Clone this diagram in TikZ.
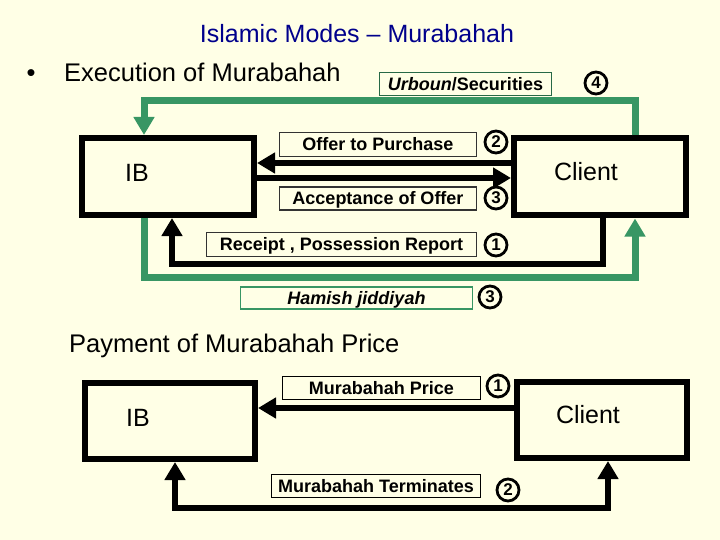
\documentclass[tikz,border=0pt]{standalone}
\usepackage{fontspec}
\setmainfont{Liberation Sans}
\usetikzlibrary{arrows.meta}
\definecolor{paper}{RGB}{255,255,230}
\definecolor{loopgreen}{RGB}{56,150,100}
\definecolor{titleblue}{RGB}{0,0,140}
\begin{document}
\begin{tikzpicture}[x=1pt,y=-1pt,
    bigtip/.tip={Triangle[width=20pt,length=18pt]},
    party/.style={draw,line width=6pt,minimum width=172pt,minimum height=77pt,inner sep=0},
    partyname/.style={font=\fontsize{25}{30}\selectfont,inner sep=0},
    heading/.style={font=\fontsize{25.5}{30}\selectfont,inner sep=0,anchor=base west},
    tag/.style={draw=#1,line width=1.2pt,inner sep=0,text height=12.9pt,text depth=0pt,
      font=\fontsize{18}{20}\selectfont\bfseries},
    num/.style={circle,draw,line width=2.8pt,minimum size=22pt,inner sep=0,
      font=\fontsize{17}{17}\selectfont\bfseries},
    flow/.style={line width=6pt,-bigtip},
    gflow/.style={line width=7pt,color=loopgreen,-bigtip}]
  \useasboundingbox (0,0) rectangle (720,540);
  \fill[paper] (0,0) rectangle (720,540);
  % headings
  \node[anchor=base,text=titleblue,inner sep=0,font=\fontsize{25}{30}\selectfont]
    (title) at (357,43) {Islamic Modes – Murabahah};
  \node[heading,anchor=base] (bullet) at (31,82) {\textbullet};
  \node[heading] (exec) at (64,82) {Execution of Murabahah};
  \node[heading] (pay) at (69,352) {Payment of Murabahah Price};
  % execution: parties
  \node[party] (ib) at (168,176.5) {};
  \node[party] (client) at (600,177) {};
  \node[partyname] (ibname) at (137,173) {IB};
  \node[partyname] (clientname) at (586,172) {Client};
  % execution: green loop (4 and 3)
  \draw[gflow] ([xshift=35pt]client.north) -- ++(0,-35) -| ([xshift=-24pt]ib.north);
  \draw[gflow] ([xshift=-24pt]ib.south) -- ++(0,59) -| ([xshift=35pt]client.south);
  % execution: black arrows
  \draw[flow] ([yshift=14pt]client.west) -- ([yshift=14pt]client.west -| ib.east);
  \draw[flow] ([yshift=-1.5pt]ib.east) -- ([yshift=-1.5pt]ib.east -| client.west);
  \draw[flow] ([xshift=3pt]client.south) -- ++(0,45) -| ([xshift=4pt]ib.south);
  % execution: labels
  \node[tag=loopgreen!70!black,minimum width=172pt,minimum height=23pt] (urboun) at (465.5,84)
    {\itshape Urboun\upshape/Securities};
  \node[num] (n4) at (596,83) {4};
  \node[tag=black!80,minimum width=197pt,minimum height=24pt] (offer) at (378,144.5) {Offer to Purchase};
  \node[num] (n2) at (496,142) {2};
  \node[tag=black!80,minimum width=197pt,minimum height=23pt] (accept) at (378,198.5) {Acceptance of Offer};
  \node[num] (n3) at (496,198) {3};
  \node[tag=black!80,minimum width=270pt,minimum height=24pt] (receipt) at (341.5,244.5) {Receipt , Possession Report};
  \node[num] (n1) at (496,245) {1};
  \node[tag=loopgreen,minimum width=232pt,minimum height=22pt] (hamish) at (356.5,298) {\itshape Hamish jiddiyah};
  \node[num] (n3b) at (490,297) {3};
  % payment: parties
  \node[party,minimum width=170pt,minimum height=76pt] (ibb) at (170,421) {};
  \node[party,minimum width=170pt,minimum height=76pt] (clientb) at (602,420) {};
  \node[partyname] (ibbname) at (138,418) {IB};
  \node[partyname] (clientbname) at (588,415) {Client};
  % payment: arrows
  \draw[flow] ([yshift=12pt]clientb.west) -- ([yshift=12pt]clientb.west -| ibb.east);
  \draw[flow,bigtip-bigtip] ([xshift=5pt]ibb.south) -- ++(0,46) -| ([xshift=6pt]clientb.south);
  % payment: labels
  \node[tag=black,minimum width=198pt,minimum height=23pt] (price) at (381.5,388) {Murabahah Price};
  \node[num] (p1) at (498,386) {1};
  \node[tag=black,minimum width=209pt,minimum height=23pt] (terminate) at (376,486) {Murabahah Terminates};
  \node[num] (p2) at (508,490) {2};
\end{tikzpicture}
\end{document}
